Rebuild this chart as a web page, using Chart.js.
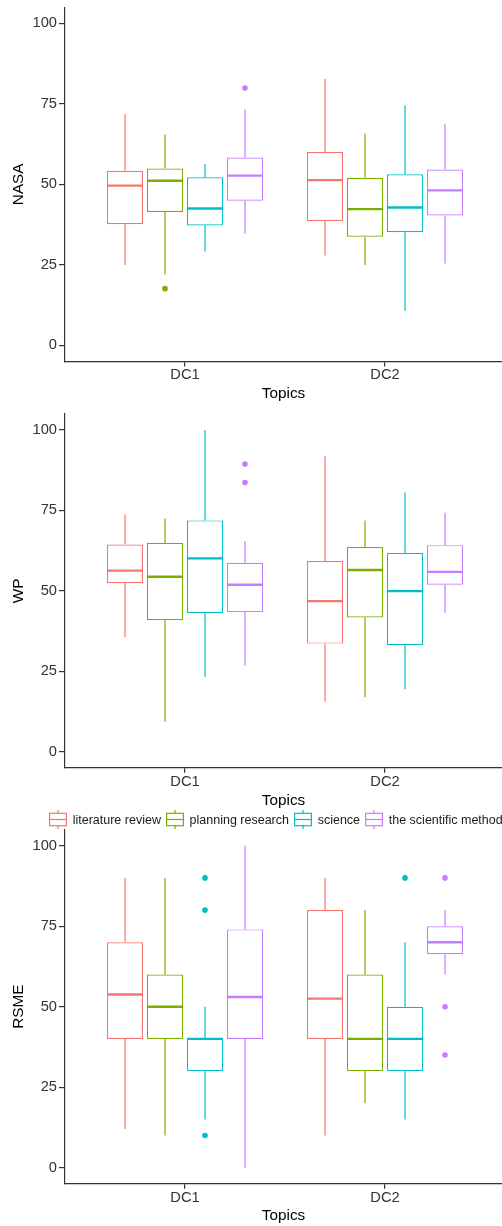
<!DOCTYPE html>
<html>
<head>
<meta charset="utf-8">
<script src="https://cdn.jsdelivr.net/npm/chart.js@4.4.1/dist/chart.umd.min.js"></script>
<style>
html, body { margin: 0; padding: 0; background: #fff; overflow: hidden; }
body { width: 502px; height: 1226px; position: relative; font-family: "Liberation Sans", Arial, sans-serif; }
.painel { position: absolute; left: 0; width: 502px; }
#legenda { position: absolute; left: 49.3px; top: 810px; height: 19px; display: flex; align-items: center; white-space: nowrap; font-size: 12.5px; color: #1a1a1a; }
#legenda .item { display: flex; align-items: center; margin-right: 5.3px; }
#legenda svg { margin-right: 5.4px; }
</style>
</head>
<body>
<div class="painel" style="top:0;height:410px"><canvas id="chartNasa"></canvas></div>
<div class="painel" style="top:410px;height:400px"><canvas id="chartWp"></canvas></div>
<div class="painel" style="top:810px;height:416px"><canvas id="chartRsme"></canvas></div>
<div id="legenda"></div>

<script>
// dados: cada array é [tópico][DC1, DC2]
const categories = ['DC1', 'DC2'];
const topics = ['literature review', 'planning research', 'science', 'the scientific method'];
const topicColors = ['#F8766D', '#7CAE00', '#00BFC4', '#C77CFF'];
const yTicks = [0, 25, 50, 75, 100];

const nasaMin = [[24.9, 27.9], [22.0, 24.9], [29.1, 10.7], [34.7, 25.4]];
const nasaQ1  = [[37.6, 38.6], [41.4, 33.7], [37.2, 35.1], [44.9, 40.3]];
const nasaMed = [[49.6, 51.3], [51.1, 42.3], [42.5, 42.8], [52.7, 48.1]];
const nasaQ3  = [[54.2, 60.0], [54.9, 52.0], [52.2, 53.1], [58.3, 54.6]];
const nasaMax = [[71.8, 82.8], [65.5, 65.8], [56.3, 74.5], [73.3, 68.8]];
const nasaOut = [[[], []], [[17.6], []], [[], []], [[79.9], []]];

const wpMin = [[35.6, 15.5], [9.3, 16.9], [23.2, 19.4], [26.8, 43.2]];
const wpQ1  = [[52.4, 33.6], [40.9, 41.7], [43.1, 33.1], [43.4, 51.9]];
const wpMed = [[56.3, 46.8], [54.4, 56.5], [60.1, 49.9], [51.9, 55.9]];
const wpQ3  = [[64.4, 59.3], [64.9, 63.6], [71.9, 61.8], [58.7, 64.2]];
const wpMax = [[73.7, 91.8], [72.5, 71.9], [100, 80.6], [65.5, 74.3]];
const wpOut = [[[], []], [[], []], [[], []], [[89.4, 83.7], []]];

const rsmeMin = [[12, 10], [10, 20], [15, 15], [0, 60]];
const rsmeQ1  = [[40, 40], [40, 30], [30, 30], [40, 66.3]];
const rsmeMed = [[53.8, 52.5], [50, 40], [40, 40], [53, 70]];
const rsmeQ3  = [[70, 80], [60, 60], [40, 50], [74, 75]];
const rsmeMax = [[90, 90], [90, 80], [50, 70], [100, 80]];
const rsmeOut = [[[], []], [[], []], [[90, 80, 10], [90]], [[], [90, 50, 35]]];

const corTick = '#333', corEixo = '#333';
Chart.defaults.font.family = '"Liberation Sans", Arial, sans-serif';

// caixas = barras flutuantes; medianas, bigodes e outliers = linhas/pontos no mesmo eixo x
function montarDatasets(mins, q1s, meds, q3s, maxs, outs) {
    const sets = [];
    topics.forEach((topic, k) => {
        const off = (k - 1.5) * 0.2;
        const cor = topicColors[k];
        const med = [], bigode = [], pontos = [];
        categories.forEach((c, i) => {
            const x = i + 1 + off;
            med.push({x: x - 0.09, y: meds[k][i]}, {x: x + 0.09, y: meds[k][i]}, {x: x, y: null});
            bigode.push({x: x, y: maxs[k][i]}, {x: x, y: q3s[k][i]}, {x: x, y: null},
                        {x: x, y: q1s[k][i]}, {x: x, y: mins[k][i]}, {x: x, y: null});
            outs[k][i].forEach(v => pontos.push({x: x, y: v}));
        });
        sets.push({type: 'line', data: med, borderColor: cor, borderWidth: 2.4, pointRadius: 0, spanGaps: false, order: 0});
        sets.push({type: 'scatter', data: pontos, backgroundColor: cor, borderWidth: 0, pointRadius: 2.8, order: 0});
        sets.push({type: 'line', data: bigode, borderColor: cor, borderWidth: 1.2, pointRadius: 0, spanGaps: false, order: 1});
    });
    topics.forEach((topic, k) => {
        sets.push({
            type: 'bar', label: topic,
            data: categories.map((c, i) => ({x: i + 1, y: [q1s[k][i], q3s[k][i]]})),
            backgroundColor: '#fff', borderColor: topicColors[k], borderWidth: 1.2, borderSkipped: false,
            categoryPercentage: 0.8, barPercentage: 0.9, order: 2
        });
    });
    return sets;
}

function criarGrafico(id, yTitulo, sets, lay) {
    return new Chart(id, {
        type: 'scatter',
        data: {datasets: sets},
        options: {
            responsive: true,
            maintainAspectRatio: false,
            animation: false,
            events: [],
            layout: {autoPadding: false, padding: {top: lay.padTop, right: 0, bottom: 0, left: 0}},
            plugins: {legend: {display: false}, tooltip: {enabled: false}},
            scales: {
                x: {
                    type: 'linear', min: 0.4, max: 2.585, offset: false,
                    afterBuildTicks: s => { s.ticks = categories.map((c, i) => ({value: i + 1})); },
                    afterFit: s => { s.height = lay.xHeight; s.paddingLeft = 0; s.paddingRight = 0; },
                    ticks: {callback: (v, i) => categories[i], color: corTick, font: {size: 14.7}, padding: 0, maxRotation: 0, autoSkip: false},
                    grid: {drawOnChartArea: false, drawTicks: true, tickLength: 5, color: corEixo, lineWidth: 1.2, offset: false},
                    border: {display: true, color: corEixo, width: 1.2},
                    title: {display: true, text: 'Topics', color: '#000', font: {size: 15.3}, padding: {top: 0, bottom: lay.titlePad}}
                },
                y: {
                    type: 'linear', min: -5, max: 105,
                    afterBuildTicks: s => { s.ticks = yTicks.map(v => ({value: v})); },
                    afterFit: s => { s.width = 65; s.paddingTop = 0; s.paddingBottom = 0; },
                    ticks: {color: corTick, font: {size: 14.7}, padding: 2},
                    grid: {drawOnChartArea: false, drawTicks: true, tickLength: 6, color: corEixo, lineWidth: 1.2},
                    border: {display: true, color: corEixo, width: 1.2},
                    title: {display: true, text: yTitulo, color: '#000', font: {size: 15.3}, padding: {top: 9.1, bottom: 0}}
                }
            }
        }
    });
}

function montarLegenda() {
    const el = document.getElementById('legenda');
    el.innerHTML = topics.map((t, k) => {
        const c = topicColors[k];
        return `<span class="item"><svg width="18" height="19" viewBox="0 0 18 19">
            <line x1="9" y1="0" x2="9" y2="19" stroke="${c}" stroke-width="1.2"/>
            <rect x="0.6" y="3.3" width="16.8" height="12.4" fill="#fff" stroke="${c}" stroke-width="1.2"/>
            <line x1="0.6" y1="9.5" x2="17.4" y2="9.5" stroke="${c}" stroke-width="1.2"/>
        </svg>${t}</span>`;
    }).join('');
}

document.addEventListener('DOMContentLoaded', () => {
    criarGrafico('chartNasa', 'NASA', montarDatasets(nasaMin, nasaQ1, nasaMed, nasaQ3, nasaMax, nasaOut),
        {padTop: 7.2, xHeight: 48.6, titlePad: 6.8});
    criarGrafico('chartWp', 'WP', montarDatasets(wpMin, wpQ1, wpMed, wpQ3, wpMax, wpOut),
        {padTop: 3.9, xHeight: 42.2, titlePad: 0.5});
    criarGrafico('chartRsme', 'RSME', montarDatasets(rsmeMin, rsmeQ1, rsmeMed, rsmeQ3, rsmeMax, rsmeOut),
        {padTop: 19.6, xHeight: 42.2, titlePad: 0.8});
    montarLegenda();
});
</script>
</body>
</html>
